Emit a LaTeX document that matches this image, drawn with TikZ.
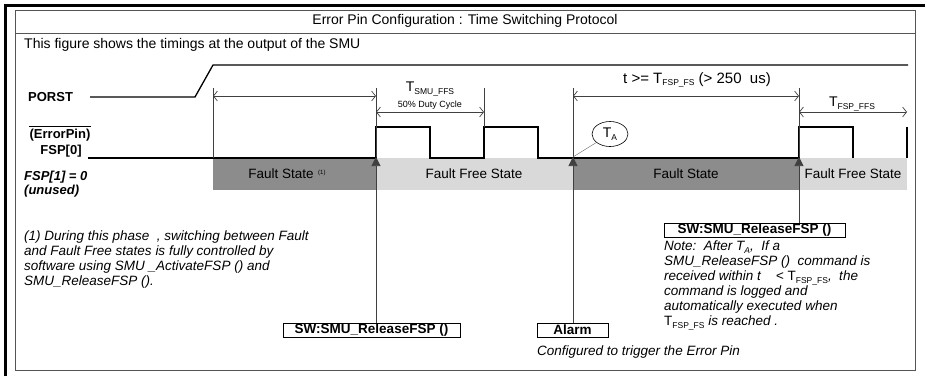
\documentclass[tikz,border=0pt]{standalone}
\usepackage{fontspec}
\setmainfont{Liberation Sans}
\usetikzlibrary{arrows.meta,shapes.geometric}
\definecolor{fltdark}{HTML}{8C8C8C}
\definecolor{fltlight}{HTML}{D9D9D9}
\definecolor{framec}{HTML}{555555}
\newcommand\mysub[1]{\raisebox{-0.35ex}{\fontsize{8.5}{9}\selectfont #1}}
\begin{document}
\begin{tikzpicture}[x=1pt,y=-1pt,
  font=\fontsize{14}{15}\selectfont,
  frame/.style={draw=framec,line width=0.8pt},
  sig/.style={line width=1.3pt,black},
  marker/.style={line width=0.7pt,black!75},
  dimline/.style={marker,{Straight Barb[length=4pt,width=10pt]}-{Straight Barb[length=4pt,width=10pt]}},
  trig/.style={marker,-{Triangle[length=9pt,width=9pt]}},
  swbox/.style={draw,line width=0.7pt,font=\bfseries\fontsize{13.5}{14}\selectfont,inner sep=0pt,minimum height=14pt},
  lbl/.style={font=\bfseries\fontsize{13}{14}\selectfont,inner sep=0pt},
  bandtxt/.style={font=\fontsize{13.5}{14}\selectfont,inner sep=0pt},
  note/.style={font=\itshape\fontsize{13.5}{15}\selectfont,align=left,anchor=north west,inner sep=0pt}
]
\useasboundingbox (0,0) rectangle (927,376);
% frames
\draw[line width=3pt] (5,376) -- (5,5) -- (925,5);
\draw[frame] (15,10) rectangle (915,370);
\draw[frame] (15,33) -- (915,33);
\node[inner sep=0pt] (title) at (465,21) {Error Pin Configuration : Time Switching Protocol};
\node[anchor=west,inner sep=0pt] (subt) at (24,45) {This figure shows the timings at the output of the SMU};
% bands
\fill[fltdark] (213,158) rectangle (376,190);
\fill[fltlight] (376,158) rectangle (573,190);
\fill[fltdark] (573,158) rectangle (799,190);
\fill[fltlight] (799,158) rectangle (907,190);
\node[bandtxt] (fs1) at (287,174) {Fault State\,\,\raisebox{0.6ex}{\fontsize{6}{6}\selectfont (1)}};
\node[bandtxt] (ffs1) at (474,174) {Fault Free State};
\node[bandtxt] (fs2) at (686,174) {Fault State};
\node[bandtxt] (ffs2) at (853,174) {Fault Free State};
% left labels
\node[lbl,anchor=west] (porst) at (28,97) {PORST};
\node[lbl] (errpin) at (60,135) {(ErrorPin)};
\draw[line width=0.7pt] ([yshift=2pt]errpin.north west) -- ([yshift=2pt]errpin.north east);
\node[lbl] (fsp0) at (61,151) {FSP[0]};
\node[lbl,font=\bfseries\itshape\fontsize{13}{14}\selectfont,anchor=west] (fsp1) at (24,177) {FSP[1] = 0};
\node[lbl,font=\bfseries\itshape\fontsize{13}{14}\selectfont,anchor=west] (unused) at (24,191) {(unused)};
% PORST signal
\draw[sig] (90,97) -- (195,97) -- (213,65) -- (908,65);
% FSP0 signal
\draw[sig] (88,158) -- (376,158) -- (376,127) -- (430,127) -- (430,158) -- (484,158) -- (484,127) -- (538,127) -- (538,158)
  -- (799,158) -- (799,127) -- (853,127) -- (853,158);
\draw[sig] (907,127) -- (907,158);
% coordinates
\coordinate (m1) at (376,157);
\coordinate (m2) at (573,157);
\coordinate (m3) at (799,157);
% boxes
\node[swbox,minimum width=177pt] (sw1) at (371.5,330) {SW:SMU\_ReleaseFSP ()};
\node[swbox,minimum width=71pt] (alarm) at (572.5,330) {Alarm};
\node[swbox,minimum width=181pt] (sw2) at (754.5,230) {SW:SMU\_ReleaseFSP ()};
% vertical markers
\draw[marker] (213,88) -- (213,158);
\draw[trig] (sw1.north -| m1) -- (m1);
\draw[marker] (m1) -- (376,88);
\draw[marker] (484,88) -- (484,127);
\draw[trig] (alarm.north -| m2) -- (m2);
\draw[marker] (m2) -- (573,88);
\draw[trig] (sw2.north -| m3) -- (m3);
\draw[marker] (m3) -- (799,88);
% dimension arrows
\draw[dimline] (213,96) -- (376,96);
\draw[dimline] (376,112) -- (484,112);
\draw[dimline] (573,96) -- (799,96);
\draw[dimline] (799,112) -- (907,112);
\node[inner sep=0pt] (tsmu) at (430,89) {T\mysub{SMU\_FFS}};
\node[inner sep=0pt,font=\fontsize{9}{9}\selectfont] (duty) at (430,105) {50\% Duty Cycle};
\node[inner sep=0pt,font=\fontsize{15}{16}\selectfont] (tfs) at (697,80) {t >= T\mysub{FSP\_FS} (> 250\ \ us)};
\node[inner sep=0pt] (tffs) at (852,104) {T\mysub{FSP\_FFS}};
% TA
\node[draw,ellipse,line width=0.6pt,minimum width=36pt,minimum height=25pt,inner sep=0pt] (ta) at (610,134) {T\mysub{A}};
\draw[line width=0.4pt,black!60] (ta) -- (m2);
% notes
\node[note] (foot) at (24,231) {(1) During this phase\ \ , switching between Fault\\and Fault Free states is fully controlled by\\software using SMU \_ActivateFSP () and\\SMU\_ReleaseFSP ().};
\node[note,anchor=north west] (conf) at (537,346) {Configured to trigger the Error Pin};
\node[note] (nt) at (664,241) {Note:\ \ After T\mysub{A},\ \ If a\\SMU\_ReleaseFSP ()\ \ command is\\received within t\ \ \ \ < {\upshape T\mysub{FSP\_FS}},\ \ the\\command is logged and\\automatically executed when\\{\upshape T\mysub{FSP\_FS}} is reached .};
\end{tikzpicture}
\end{document}
